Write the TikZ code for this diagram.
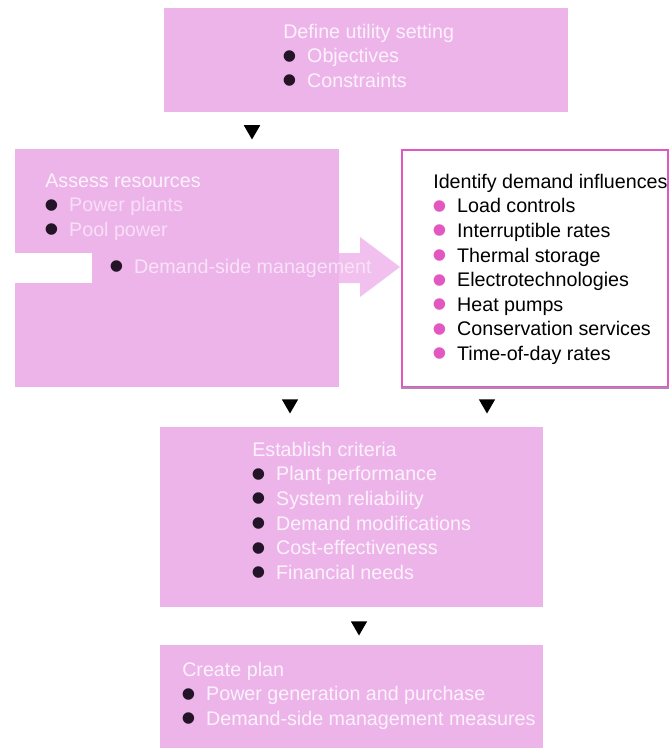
\documentclass[tikz,border=0pt]{standalone}
\usepackage{fontspec}
\setmainfont{Liberation Sans}
\usepackage{xcolor}
\usetikzlibrary{positioning,fit,shapes.geometric}
\definecolor{cpink}{RGB}{237,180,234}
\definecolor{carrow}{RGB}{242,192,238}
\definecolor{cmagenta}{RGB}{226,88,192}
\definecolor{cedge}{RGB}{175,135,175}
\definecolor{cwhite}{RGB}{252,242,252}
\definecolor{cdot}{RGB}{35,20,40}
\newcommand{\bul}[1]{\makebox[17pt][l]{\hspace*{-0.5pt}\smash{\raisebox{-5.2pt}{\textcolor{#1}{\fontsize{30}{0}\selectfont\textbullet}}}}}

\begin{document}
\begin{tikzpicture}[
      x=0.025cm, y=-0.025cm,
      box/.style={fill=cpink, inner sep=0pt},
      txt/.style={anchor=north west, align=left, inner sep=0pt, text=cwhite,
                  font=\fontsize{14}{17.5}\selectfont},
      marker/.style={regular polygon, regular polygon sides=3, shape border rotate=180,
                     fill=black, inner sep=0pt, minimum size=19*0.025cm}
    ]
    \useasboundingbox (0,0) rectangle (671,748);
    % boxes
    \node[box, fit={(164,8) (568,112)}] (setting) {};
    \node[box, fit={(15,149) (339,387)}] (assess) {};
    \node[fill=white, draw=cmagenta, line width=1.1pt, inner sep=0pt, fit={(402,150) (668,387)}] (influence) {};
    \draw[cedge, line width=1.1pt] (influence.south west) -- (influence.south east);
    \node[box, fit={(160,427) (543,607)}] (criteria) {};
    \node[box, fit={(160,645) (543,760)}] (plan) {};
    % big arrow through the resources box
    \fill[white] (15,253) rectangle (92,283);
    \fill[carrow] (339,253) -- (360,253) -- (360,237) -- (400,267) -- (360,297) -- (360,283) -- (339,283) -- cycle;
    % texts
    \node[txt] (settingtxt) at (283,20.8) {\strut Define utility setting\\
      \bul{cdot}Objectives\\ \bul{cdot}Constraints};
    \node[txt] (assesstxt) at (45,169.8) {\strut Assess resources\\
      \bul{cdot}\textcolor{cwhite!70!cpink}{Power plants}\\ \bul{cdot}\textcolor{cwhite!70!cpink}{Pool power}};
    \node[txt] (dsmtxt) at (110,255.8) {\strut\bul{cdot}\textcolor{cwhite!75!cpink}{Demand-side management}};
    \node[txt, text=black] (influencetxt) at (433,170.8) {\strut Identify demand influences\\
      \bul{cmagenta}Load controls\\ \bul{cmagenta}Interruptible rates\\
      \bul{cmagenta}Thermal storage\\ \bul{cmagenta}Electrotechnologies\\
      \bul{cmagenta}Heat pumps\\ \bul{cmagenta}Conservation services\\
      \bul{cmagenta}Time-of-day rates};
    \node[txt] (criteriatxt) at (252,438.8) {\strut Establish criteria\\
      \bul{cdot}Plant performance\\ \bul{cdot}System reliability\\
      \bul{cdot}Demand modifications\\ \bul{cdot}Cost-effectiveness\\
      \bul{cdot}Financial needs};
    \node[txt] (plantxt) at (182,658.8) {\strut Create plan\\
      \bul{cdot}Power generation and purchase\\ \bul{cdot}Demand-side management measures};
    % flow markers
    \node[marker] (m1) at (252,130) {};
    \node[marker] (m2) at (290,404) {};
    \node[marker] (m3) at (487,404) {};
    \node[marker] (m4) at (359,626) {};
  \end{tikzpicture}
\end{document}
